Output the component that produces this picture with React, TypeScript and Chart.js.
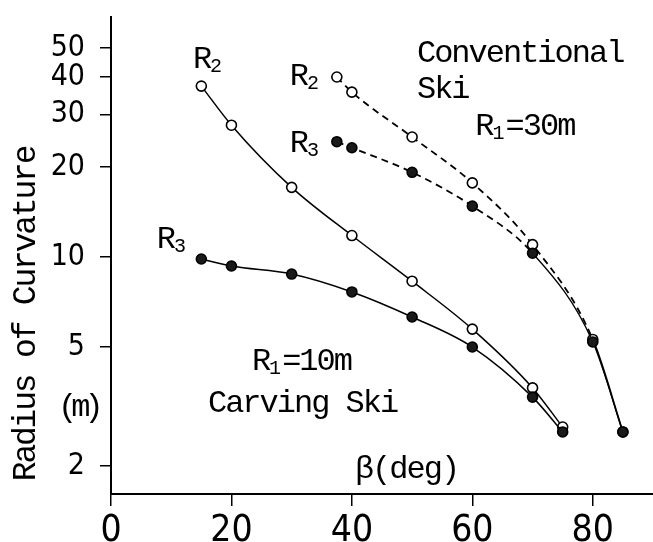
import { useEffect, useRef } from "react";
import { Chart, registerables } from "chart.js";

Chart.register(...registerables);

// ---- data ----
const carvingBeta = [15, 20, 30, 40, 50, 60, 70, 75];
const carvingR2 = [37.3, 27.6, 17.1, 11.8, 8.3, 5.74, 3.65, 2.7];
const carvingR3 = [9.85, 9.33, 8.77, 7.64, 6.3, 5.0, 3.4, 2.6];

const conventionalBeta = [37.5, 40, 50, 60, 70, 80, 85];
const conventionalR2 = [40.0, 35.6, 25.2, 17.7, 11.0, 5.3, 2.6];
const conventionalR3 = [24.3, 23.2, 19.2, 14.8, 10.3, 5.2, 2.6];

const xTicks = [0, 20, 40, 60, 80];
const yTicks = [2, 5, 10, 20, 30, 40, 50];

const yTitle = "Radius of Curvature";
const yUnit = "(m)";

type Part = { t: string; sub?: boolean };
type Note = { parts: Part[]; x: number; y: number };

// text annotations anchored in data coordinates
const notes: Note[] = [
  { parts: [{ t: "R" }, { t: "2", sub: true }], x: 13.6, y: 42.9 },
  { parts: [{ t: "R" }, { t: "3", sub: true }], x: 7.6, y: 10.7 },
  { parts: [{ t: "R" }, { t: "2", sub: true }], x: 29.7, y: 37.6 },
  { parts: [{ t: "R" }, { t: "3", sub: true }], x: 29.7, y: 22.4 },
  { parts: [{ t: "Conventional" }], x: 50.8, y: 44.9 },
  { parts: [{ t: "Ski" }], x: 50.8, y: 34.0 },
  { parts: [{ t: "R" }, { t: "1", sub: true }, { t: "=30m" }], x: 60.5, y: 25.6 },
  { parts: [{ t: "R" }, { t: "1", sub: true }, { t: "=10m" }], x: 23.4, y: 4.19 },
  { parts: [{ t: "Carving Ski" }], x: 16.1, y: 3.03 },
  { parts: [{ t: "β(deg)" }], x: 40.5, y: 1.82 },
];

const LABEL_FONT = "'Liberation Mono', 'DejaVu Sans Mono', monospace";
const TICK_FONT = "'DejaVu Sans', sans-serif";

const textPlugin = {
  id: "figureTexts",
  afterDraw(chart: any) {
    const { ctx, scales } = chart;
    const xs = scales.x;
    const ys = scales.y;
    ctx.save();
    ctx.fillStyle = "#000";
    ctx.textAlign = "left";
    ctx.textBaseline = "alphabetic";
    for (const n of notes) {
      let px = xs.getPixelForValue(n.x);
      const py = ys.getPixelForValue(n.y);
      for (const p of n.parts) {
        ctx.font = `${p.sub ? 20 : 32}px ${LABEL_FONT}`;
        (ctx as any).letterSpacing = p.sub ? "0px" : "-2px";
        ctx.fillText(p.t, px, py + (p.sub ? 4 : 0));
        px += ctx.measureText(p.t).width + (p.sub ? 1 : 0);
      }
    }
    // unit "(m)"
    ctx.font = `32px ${LABEL_FONT}`;
    (ctx as any).letterSpacing = "-6px";
    ctx.fillText(yUnit, xs.getPixelForValue(-8.8), ys.getPixelForValue(2.94));
    // rotated y title
    ctx.translate(xs.getPixelForValue(-14.1), ys.getPixelForValue(6.45));
    ctx.rotate(-Math.PI / 2);
    ctx.textAlign = "center";
    ctx.textBaseline = "middle";
    ctx.font = `33px ${LABEL_FONT}`;
    (ctx as any).letterSpacing = "-2.2px";
    ctx.fillText(yTitle, 0, 0);
    ctx.restore();
  },
};

const pts = (xs: number[], ys: number[]) => xs.map((x, i) => ({ x, y: ys[i] }));

export default function App() {
  const ref = useRef<HTMLCanvasElement | null>(null);

  useEffect(() => {
    document.body.style.margin = "0";
    const canvas = ref.current;
    if (!canvas) return;
    const dash = [7, 5];
    const base = {
      showLine: true,
      borderColor: "#000",
      pointBorderColor: "#000",
      pointRadius: 5,
      pointBorderWidth: 1.6,
      pointHoverRadius: 5,
      cubicInterpolationMode: "monotone" as const,
    };
    const chart = new Chart(canvas, {
      type: "scatter",
      data: {
        datasets: [
          {
            ...base,
            label: "Carving R3",
            data: pts(carvingBeta, carvingR3),
            borderWidth: 1.5,
            pointBackgroundColor: "#1a1a1a",
          },
          {
            ...base,
            label: "Carving R2",
            data: pts(carvingBeta, carvingR2),
            borderWidth: 1.5,
            pointBackgroundColor: "#fff",
          },
          {
            ...base,
            label: "Conventional R3",
            data: pts(conventionalBeta, conventionalR3),
            borderWidth: 1.8,
            borderDash: dash,
            pointBackgroundColor: "#1a1a1a",
            segment: {
              borderDash: (c: any) => (c.p0DataIndex >= 4 ? [] : dash),
              borderWidth: (c: any) => (c.p0DataIndex >= 4 ? 1.3 : 1.8),
            },
          },
          {
            ...base,
            label: "Conventional R2",
            data: pts(conventionalBeta, conventionalR2),
            borderWidth: 1.8,
            borderDash: dash,
            pointBackgroundColor: "#fff",
            segment: {
              borderDash: (c: any) => (c.p0DataIndex >= 5 ? [] : dash),
            },
          },
        ],
      },
      options: {
        animation: false,
        responsive: false,
        layout: { autoPadding: false, padding: { top: 17, right: 0, left: 0, bottom: 0 } },
        plugins: {
          legend: { display: false },
          tooltip: { enabled: false },
        },
        scales: {
          x: {
            type: "linear",
            min: 0,
            max: 90,
            afterBuildTicks: (s: any) => {
              s.ticks = xTicks.map((v) => ({ value: v }));
            },
            afterFit: (s: any) => {
              s.height = 48;
              s.paddingLeft = 0;
              s.paddingRight = 0;
            },
            grid: {
              drawOnChartArea: false,
              drawTicks: true,
              tickLength: 12,
              color: "#000",
              lineWidth: 1.5,
            },
            border: { color: "#000", width: 2 },
            ticks: {
              color: "#000",
              padding: 3,
              maxRotation: 0,
              autoSkip: false,
              font: { family: TICK_FONT, size: 37, weight: "condensed" as any },
              callback: (v: any) => String(v),
            },
          },
          y: {
            type: "logarithmic",
            min: 1.612,
            max: 63.5,
            afterBuildTicks: (s: any) => {
              s.ticks = yTicks.map((v) => ({ value: v }));
            },
            afterFit: (s: any) => {
              s.width = 111;
              s.paddingTop = 0;
              s.paddingBottom = 0;
            },
            grid: {
              drawOnChartArea: false,
              drawTicks: true,
              tickLength: 11,
              color: "#000",
              lineWidth: 1.5,
            },
            border: { color: "#000", width: 2 },
            ticks: {
              color: "#000",
              padding: 15,
              autoSkip: false,
              font: { family: TICK_FONT, size: 30, weight: "condensed" as any },
              callback: (v: any) => String(v),
            },
          },
        },
      },
      plugins: [textPlugin],
    });
    return () => chart.destroy();
  }, []);

  return (
    <div style={{ width: 653, height: 542, background: "#fff" }}>
      <canvas ref={ref} width={653} height={542} style={{ display: "block" }} />
    </div>
  );
}
